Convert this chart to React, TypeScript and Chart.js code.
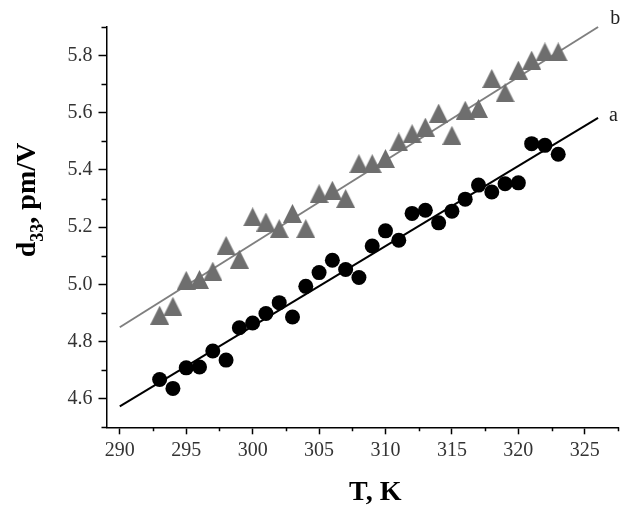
import React, { useEffect, useRef } from 'react';
import { Chart, registerables } from 'chart.js';

Chart.register(...registerables);

// ---- data ----
const temperatures = [
  293, 294, 295, 296, 297, 298, 299, 300, 301, 302, 303, 304, 305, 306, 307, 308,
  309, 310, 311, 312, 313, 314, 315, 316, 317, 318, 319, 320, 321, 322, 323,
];
const d33SeriesA = [
  4.667, 4.636, 4.708, 4.711, 4.767, 4.735, 4.848, 4.865, 4.898, 4.936, 4.886, 4.993, 5.041, 5.084, 5.052, 5.024,
  5.134, 5.187, 5.154, 5.248, 5.259, 5.215, 5.256, 5.298, 5.347, 5.323, 5.352, 5.355, 5.492, 5.486, 5.455,
];
const d33SeriesB = [
  4.892, 4.923, 5.014, 5.017, 5.046, 5.136, 5.088, 5.236, 5.218, 5.195, 5.248, 5.195, 5.317, 5.329, 5.300, 5.422,
  5.422, 5.440, 5.498, 5.527, 5.550, 5.599, 5.521, 5.609, 5.615, 5.720, 5.670, 5.749, 5.784, 5.813, 5.813,
];
const fitT = [290, 326];
const fitA = [4.573, 5.582];
const fitB = [4.85, 5.9];

const xMajorTicks = [290, 295, 300, 305, 310, 315, 320, 325];
const xMinorTicks = [292.5, 297.5, 302.5, 307.5, 312.5, 317.5, 322.5, 327.5];
const yMajorTicks = [4.6, 4.8, 5.0, 5.2, 5.4, 5.6, 5.8];
const yMinorTicks = [4.5, 4.7, 4.9, 5.1, 5.3, 5.5, 5.7, 5.9];

const xTitle = 'T, K';
const yTitleMain = 'd';
const yTitleSub = '33';
const yTitleRest = ', pm/V';
const seriesNames = ['a', 'b'];
const seriesNamePos = [
  { x: 327.15, y: 5.588 },
  { x: 327.3, y: 5.928 },
];

const SERIF = '"Liberation Serif", "Times New Roman", serif';

const decorPlugin = {
  id: 'decor',
  afterDraw(chart: any) {
    const ctx = chart.ctx;
    const xs = chart.scales.x;
    const ys = chart.scales.y;
    const area = chart.chartArea;
    ctx.save();
    // minor ticks
    ctx.strokeStyle = '#000';
    ctx.lineWidth = 1.5;
    ctx.beginPath();
    xMinorTicks.forEach((v) => {
      const px = Math.round(xs.getPixelForValue(v)) + 0.5;
      ctx.moveTo(px, area.bottom);
      ctx.lineTo(px, area.bottom + 4);
    });
    yMinorTicks.forEach((v) => {
      const py = Math.round(ys.getPixelForValue(v)) + 0.5;
      ctx.moveTo(area.left, py);
      ctx.lineTo(area.left - 5, py);
    });
    ctx.stroke();

    // x title
    ctx.fillStyle = '#000';
    ctx.font = `bold 28px ${SERIF}`;
    ctx.textAlign = 'center';
    ctx.textBaseline = 'alphabetic';
    ctx.fillText(xTitle, (area.left + area.right) / 2 + 13, area.bottom + 73);

    // y title (rotated, with subscript)
    const mainFont = `bold 28px ${SERIF}`;
    const subFont = `bold 18px ${SERIF}`;
    ctx.font = mainFont;
    const w1 = ctx.measureText(yTitleMain).width;
    const w3 = ctx.measureText(yTitleRest).width;
    ctx.font = subFont;
    const w2 = ctx.measureText(yTitleSub).width;
    const total = w1 + w2 + w3;
    ctx.translate(area.left - 71.5, area.top + 173);
    ctx.rotate(-Math.PI / 2);
    ctx.textAlign = 'left';
    let cx = -total / 2;
    ctx.font = mainFont;
    ctx.fillText(yTitleMain, cx, 0);
    cx += w1;
    ctx.font = subFont;
    ctx.fillText(yTitleSub, cx, 8);
    cx += w2;
    ctx.font = mainFont;
    ctx.fillText(yTitleRest, cx, 0);
    ctx.restore();

    // series labels
    ctx.save();
    ctx.fillStyle = '#222';
    ctx.font = `20px ${SERIF}`;
    ctx.textAlign = 'center';
    ctx.textBaseline = 'middle';
    seriesNames.forEach((n, i) => {
      const p = seriesNamePos[i];
      ctx.fillText(n, xs.getPixelForValue(p.x), ys.getPixelForValue(p.y));
    });
    ctx.restore();
  },
};

function makeTriangle(color: string) {
  const c = document.createElement('canvas');
  const w = 19;
  const h = 19;
  c.width = w;
  c.height = h;
  const g = c.getContext('2d')!;
  g.fillStyle = color;
  g.beginPath();
  g.moveTo(w / 2, 0);
  g.lineTo(w, h);
  g.lineTo(0, h);
  g.closePath();
  g.fill();
  return c;
}

export default function App() {
  const ref = useRef<HTMLCanvasElement>(null);
  useEffect(() => {
    if (!ref.current) return;
    const tri = makeTriangle('#6e6e6e');
    const tickFont = { family: SERIF, size: 20 };
    const chart = new Chart(ref.current, {
      type: 'scatter',
      data: {
        datasets: [
          {
            label: 'fit a',
            type: 'line',
            data: fitT.map((t, i) => ({ x: t, y: fitA[i] })),
            borderColor: '#000',
            borderWidth: 2,
            pointRadius: 0,
            showLine: true,
            fill: false,
            order: 2,
            clip: false,
          } as any,
          {
            label: 'fit b',
            type: 'line',
            data: fitT.map((t, i) => ({ x: t, y: fitB[i] })),
            borderColor: '#7f7f7f',
            borderWidth: 2,
            pointRadius: 0,
            showLine: true,
            fill: false,
            order: 2,
            clip: false,
          } as any,
          {
            label: 'a',
            data: temperatures.map((t, i) => ({ x: t, y: d33SeriesA[i] })),
            backgroundColor: '#000',
            borderColor: '#000',
            borderWidth: 0,
            pointRadius: 7.5,
            pointStyle: 'circle',
            order: 0,
            clip: false,
          } as any,
          {
            label: 'b',
            data: temperatures.map((t, i) => ({ x: t, y: d33SeriesB[i] })),
            backgroundColor: '#6e6e6e',
            borderColor: '#6e6e6e',
            pointRadius: 10,
            pointStyle: tri,
            order: 1,
            clip: false,
          } as any,
        ],
      },
      options: {
        animation: false,
        responsive: true,
        maintainAspectRatio: false,
        layout: { padding: { top: 27, right: 8.4, bottom: 0, left: 0 } },
        plugins: {
          legend: { display: false },
          tooltip: { enabled: false },
          title: { display: false },
        },
        events: [],
        scales: {
          x: {
            type: 'linear',
            min: 289,
            max: 327.5,
            afterBuildTicks: (s: any) => {
              s.ticks = xMajorTicks.map((v) => ({ value: v }));
            },
            afterFit: (s: any) => {
              s.height = 78.7;
            },
            ticks: {
              autoSkip: false,
              maxRotation: 0,
              font: tickFont,
              color: '#333',
              padding: 4,
              callback: (v: any) => String(v),
            },
            grid: {
              display: true,
              drawOnChartArea: false,
              drawTicks: true,
              tickLength: 7,
              tickColor: '#000',
              tickWidth: 1.5,
            },
            border: { display: true, color: '#000', width: 1.5 },
          },
          y: {
            type: 'linear',
            min: 4.5,
            max: 5.9,
            afterBuildTicks: (s: any) => {
              s.ticks = yMajorTicks.map((v) => ({ value: v }));
            },
            afterFit: (s: any) => {
              s.width = 106.5;
            },
            ticks: {
              autoSkip: false,
              font: tickFont,
              color: '#333',
              padding: 6,
              callback: (v: any) => Number(v).toFixed(1),
            },
            grid: {
              display: true,
              drawOnChartArea: false,
              drawTicks: true,
              tickLength: 8,
              tickColor: '#000',
              tickWidth: 1.5,
            },
            border: { display: true, color: '#000', width: 1.5 },
          },
        },
      } as any,
      plugins: [decorPlugin],
    });
    return () => chart.destroy();
  }, []);

  return (
    <div style={{ position: 'absolute', left: 0, top: 0, width: 629, height: 506, background: '#fff' }}>
      <canvas ref={ref} />
    </div>
  );
}
